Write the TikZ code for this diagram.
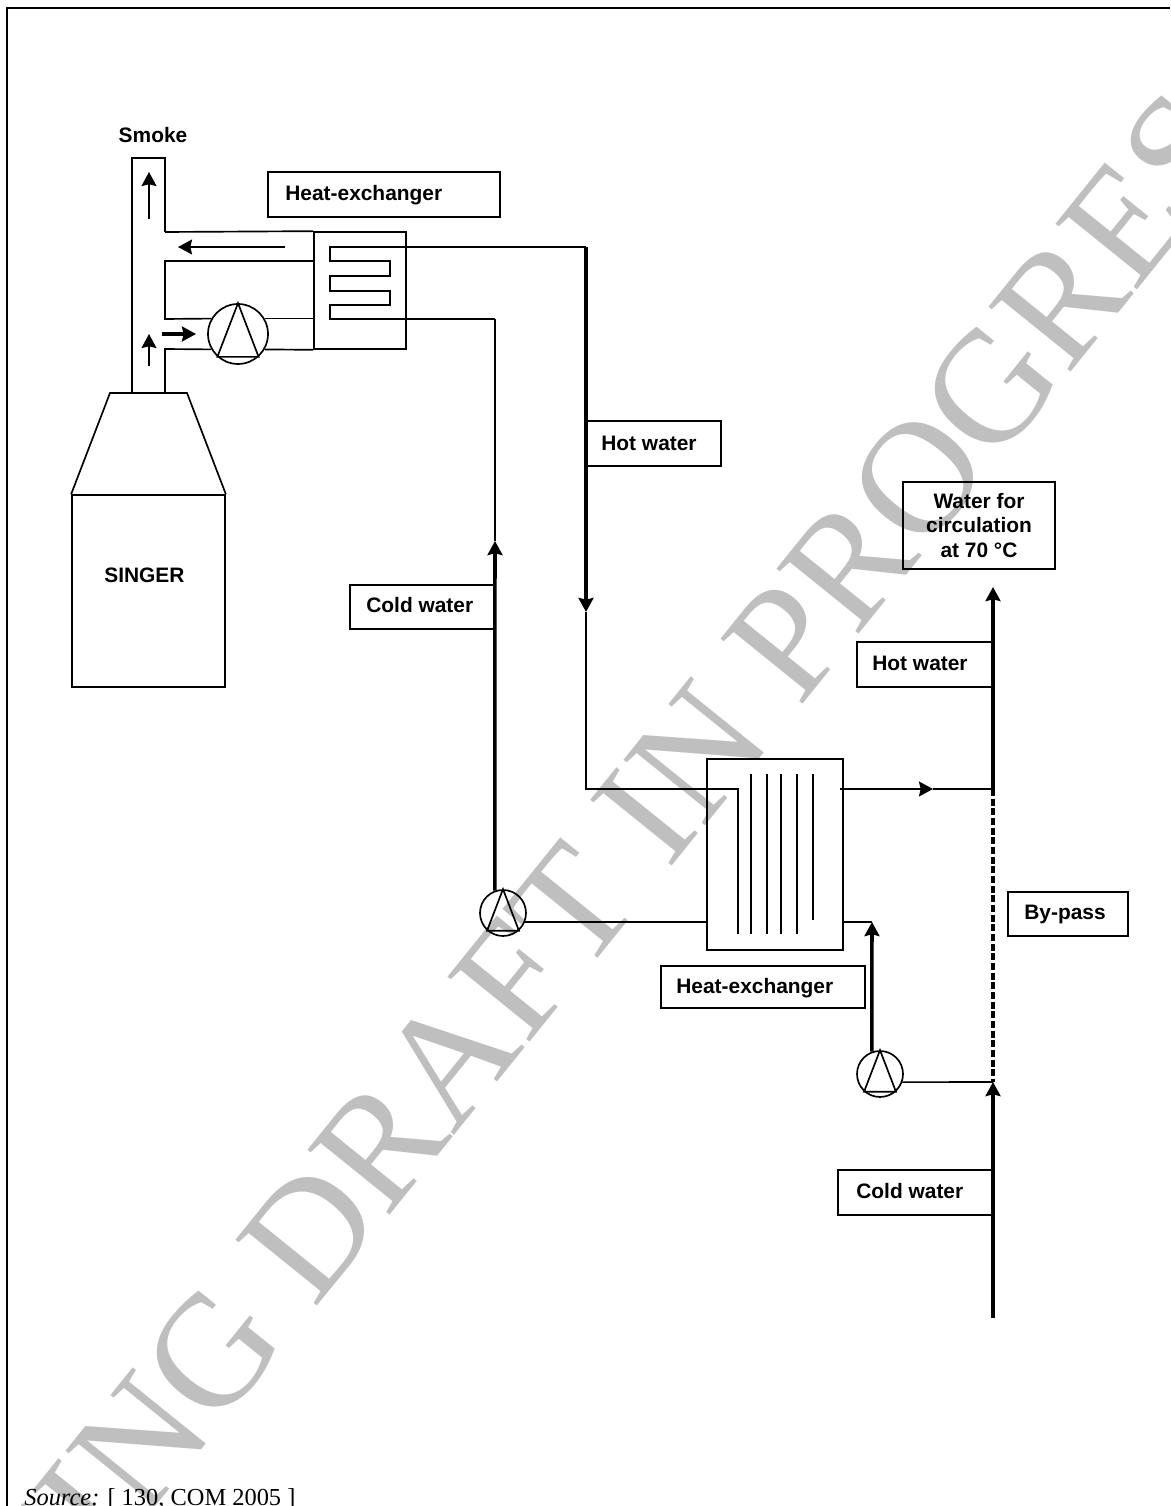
\documentclass[tikz,border=0pt]{standalone}
\usepackage{fontspec}
\setmainfont{Liberation Serif}
\setsansfont{Liberation Sans}
\usetikzlibrary{arrows.meta,positioning,calc}
\tikzset{
  hxlabel/.style={font=\sffamily\bfseries\fontsize{11.9}{15}\selectfont, anchor=west, inner sep=0pt},
  hxline/.style={draw, line width=0.95pt, line join=miter},
  hxpipe/.style={draw, line width=2pt},
  hxbox/.style={draw, line width=0.95pt, inner sep=0pt},
  hxpump/.style={draw, circle, line width=0.95pt, inner sep=0pt, minimum size=#1},
  hxarrow/.style={-{Stealth[length=8pt,width=8.5pt,inset=1pt]}, line width=0.95pt},
  hxdarrow/.style={-{Stealth[length=8pt,width=8.5pt,inset=1pt]}, line width=2pt},
}
\begin{document}
\begin{tikzpicture}[x=0.02cm, y=-0.02cm]
  \useasboundingbox (0,0) rectangle (1170,1506);
  % watermark
  \begin{scope}
    \clip (0,0) rectangle (1170,1506);
    \node[rotate=51.1, text=black!25, inner sep=0pt, font=\fontsize{91}{91}\selectfont, anchor=base west] (mark) at (-196,1942) {WORKING DRAFT IN PROGRESS};
  \end{scope}
  % frame and source
  \coordinate (fa) at (7,1506);
  \coordinate (fb) at (7,8);
  \coordinate (fc) at (1170,8);
  \draw[line width=1.2pt] (fa) -- (fb) -- (fc);
  \node[anchor=base west, inner sep=0pt, font=\fontsize{13.9}{16}\selectfont] (source) at (24,1505) {\textit{Source:} [ 130, COM 2005 ]};

  % singer and duct
  \node[hxbox, minimum width=153*0.02cm, minimum height=192*0.02cm] (singer) at (148.5,591) {};
  \node[hxlabel] (singertext) at (104,575) {SINGER};
  \coordinate (conel) at (110,393);
  \coordinate (coner) at (187,393);
  \draw[hxline] (singer.north west) -- (conel) -- (coner) -- (singer.north east);
  \coordinate (chla) at (132,393);
  \coordinate (chlb) at (132,158);
  \coordinate (chra) at (165,158);
  \coordinate (chrb) at (165,232);
  \draw[hxline] (chla) -- (chlb) -- (chra) -- (chrb);
  \node[hxlabel, anchor=center] (smoke) at (153,135) {Smoke};

  % first exchanger
  \node[hxbox, minimum width=92*0.02cm, minimum height=117*0.02cm] (hxa) at (360,290.5) {};
  \node[hxpump=60*0.02cm] (pumpA) at (238,334) {};
  \coordinate (duca) at (165,261);
  \coordinate (ducb) at (165,319);
  \coordinate (ducc) at (165,349);
  \coordinate (ducd) at (165,393);
  \draw[hxline] (chrb) -- (hxa.north west);
  \draw[hxline] (hxa.west |- duca) -- (duca) -- (ducb) -- (pumpA.150);
  \draw[hxline] (pumpA.30) -- (hxa.west |- pumpA.30);
  \draw[hxline] (ducd) -- (ducc) -- (pumpA.210);
  \draw[hxline] (pumpA.330) -- (hxa.south west);

  % coil
  \coordinate (hota) at (586,247);
  \coordinate (coila) at (330,247);
  \coordinate (coilb) at (330,261);
  \coordinate (coilc) at (390,261);
  \coordinate (coild) at (390,276);
  \coordinate (coile) at (330,276);
  \coordinate (coilf) at (330,291);
  \coordinate (coilg) at (390,291);
  \coordinate (coilh) at (390,305);
  \coordinate (coili) at (330,305);
  \coordinate (coilj) at (330,319);
  \coordinate (colda) at (495,319);
  \draw[hxline] (hota) -- (coila) -- (coilb) -- (coilc) -- (coild) -- (coile) -- (coilf) -- (coilg) -- (coilh) -- (coili) -- (coilj) -- (colda);

  % duct arrows
  \coordinate (ara) at (149,219);
  \coordinate (arb) at (149,172);
  \coordinate (arc) at (149,366);
  \coordinate (ard) at (149,334);
  \coordinate (are) at (285,247);
  \coordinate (arf) at (178,247);
  \coordinate (arg) at (162,334);
  \coordinate (arh) at (196,334);
  \draw[hxarrow] (ara) -- (arb);
  \draw[hxarrow] (arc) -- (ard);
  \draw[hxarrow] (are) -- (arf);
  \draw[hxdarrow] (arg) -- (arh);

  % second exchanger
  \node[hxbox, minimum width=136*0.02cm, minimum height=191*0.02cm] (hxb) at (775,854.5) {};
  \node[hxpump=46*0.02cm] (pumpB) at (503,913) {};
  \node[hxpump=46*0.02cm] (pumpC) at (880,1074) {};
  \foreach \p in {pumpA,pumpB,pumpC}
    \draw[hxline] (\p.90) -- (\p.228) -- (\p.312) -- cycle;

  % hot water
  \coordinate (hotb) at (586,612);
  \coordinate (hotc) at (586,789);
  \coordinate (hotd) at (738,789);
  \coordinate (hote) at (738,934);
  \draw[hxdarrow] (hota) -- (hotb);
  \draw[hxline] (hotb) -- (hotc) -- (hotd) -- (hote);
  \foreach \n/\x/\y in {ta/751/934,tb/767/934,tc/781/934,td/797/934,te/813/920}{
    \coordinate (\n a) at (\x,774);
    \coordinate (\n b) at (\x,\y);
    \draw[hxline] (\n a) -- (\n b);
  }

  % cold water
  \coordinate (coldb) at (495,541);
  \draw[hxline] (colda) -- (coldb);
  \draw[hxdarrow] (pumpB.110) -- (coldb);
  \draw[hxline] (pumpB.337) -- (hxb.west |- pumpB.337);

  % outlet and by-pass
  \coordinate (outa) at (840,789);
  \coordinate (outb) at (933,789);
  \coordinate (outc) at (993,789);
  \draw[hxarrow] (outa) -- (outb);
  \draw[hxline] (outb) -- (outc);
  \coordinate (risa) at (993,587);
  \coordinate (risb) at (993,1082);
  \coordinate (risc) at (993,1318);
  \draw[hxdarrow] (outc) -- (risa);
  \draw[hxpipe, dash pattern=on 4pt off 1.5pt] (outc) -- (risb);
  \draw[hxdarrow] (risc) -- (risb);
  \draw[hxline] (pumpC.340) -- (risb);
  \coordinate (reta) at (843,922);
  \coordinate (retb) at (872,922);
  \draw[hxline] (reta) -- (retb);
  \draw[hxdarrow] (pumpC.110) -- (retb);

  % label boxes
  \node[hxbox, minimum width=232*0.02cm, minimum height=45*0.02cm] (boxa) at (384,194.5) {};
  \node[hxlabel] (texta) at (285,195) {Heat-exchanger};
  \node[hxbox, minimum width=135*0.02cm, minimum height=45*0.02cm] (boxb) at (653.5,443.5) {};
  \node[hxlabel] (textb) at (601,443) {Hot water};
  \node[hxbox, minimum width=152*0.02cm, minimum height=87*0.02cm, align=center, font=\sffamily\bfseries\fontsize{11.9}{13.7}\selectfont] (boxc) at (979,525.5) {Water for\\circulation\\at 70 °C};
  \node[hxbox, minimum width=145*0.02cm, minimum height=44*0.02cm] (boxd) at (422.5,607) {};
  \node[hxlabel] (textd) at (366,605) {Cold water};
  \node[hxbox, minimum width=136*0.02cm, minimum height=45*0.02cm] (boxe) at (925,664.5) {};
  \node[hxlabel] (texte) at (872,663) {Hot water};
  \node[hxbox, minimum width=120*0.02cm, minimum height=44*0.02cm] (boxf) at (1068,914) {};
  \node[hxlabel] (textf) at (1024,914) {By-pass};
  \node[hxbox, minimum width=204*0.02cm, minimum height=42*0.02cm] (boxg) at (763,987) {};
  \node[hxlabel] (textg) at (676,988) {Heat-exchanger};
  \node[hxbox, minimum width=155*0.02cm, minimum height=45*0.02cm] (boxh) at (915.5,1192.5) {};
  \node[hxlabel] (texth) at (856,1191) {Cold water};
\end{tikzpicture}
\end{document}
